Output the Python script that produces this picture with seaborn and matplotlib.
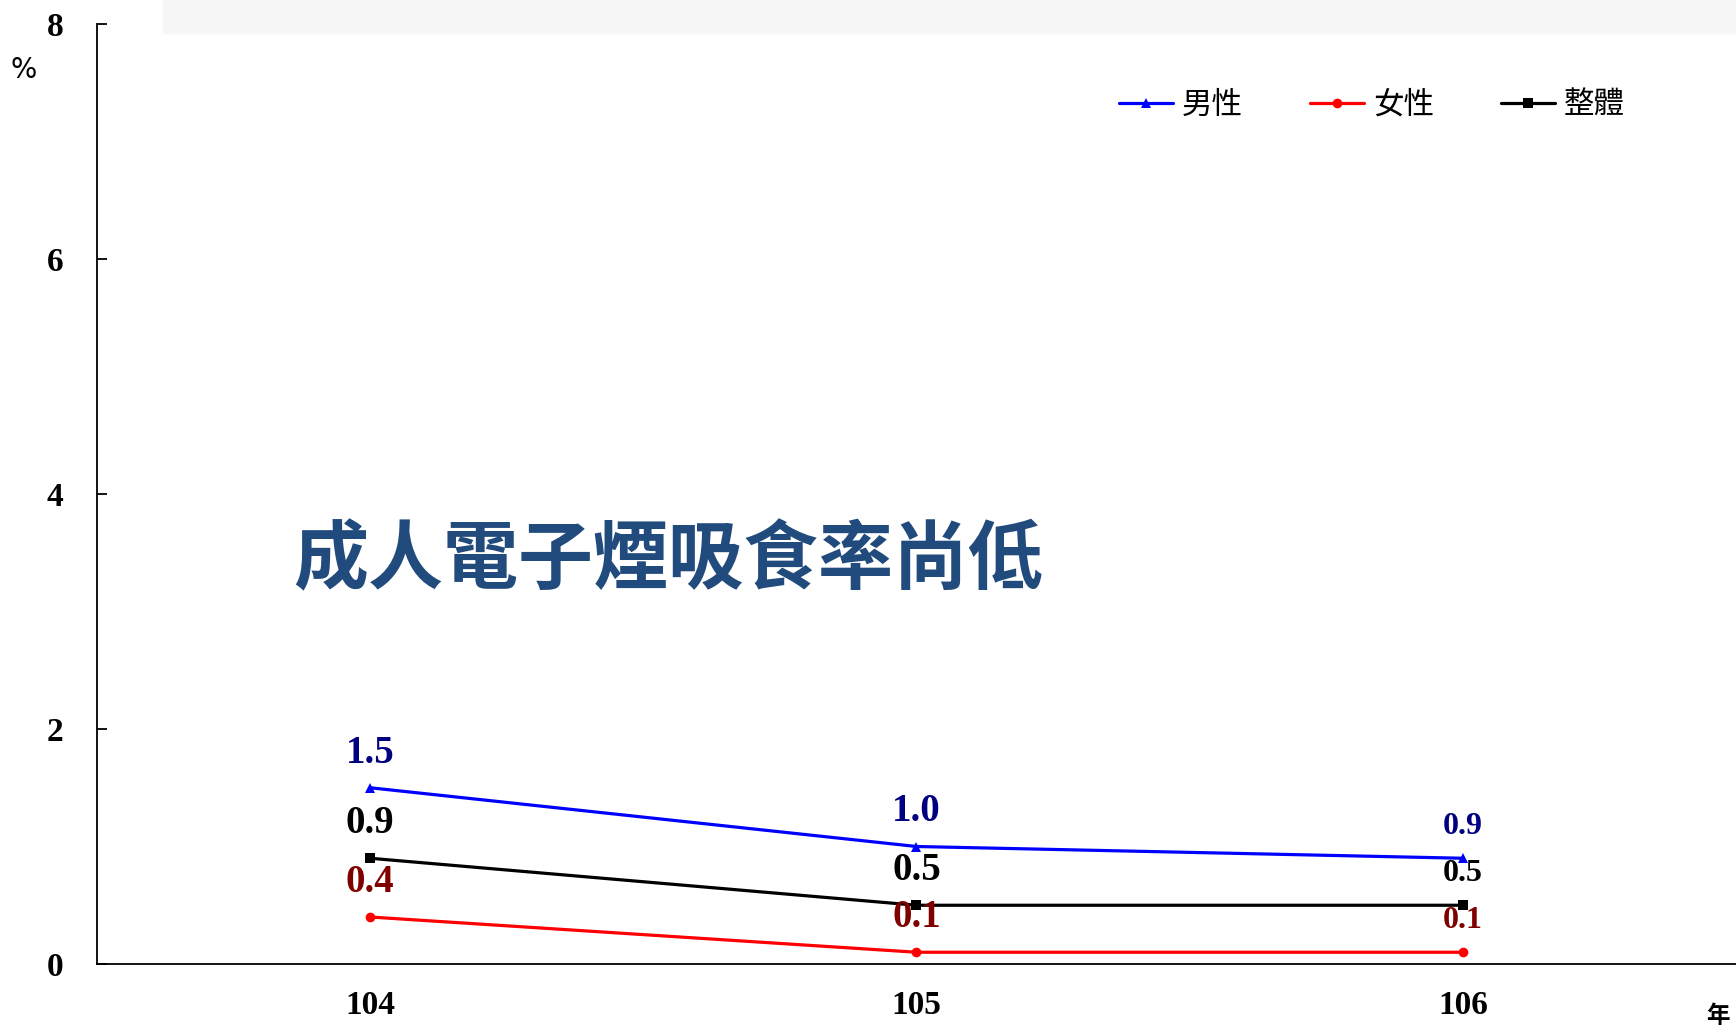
import matplotlib
matplotlib.use("Agg")
import matplotlib.pyplot as plt
import matplotlib.patches as mpatches
import seaborn as sns
import pandas as pd

# Survey years (ROC calendar) and e-cigarette use rates (%)
years = ["104", "105", "106"]
male = [1.5, 1.0, 0.9]
female = [0.4, 0.1, 0.1]
overall = [0.9, 0.5, 0.5]
series_names = ["男性", "女性", "整體"]
y_ticks = [0, 2, 4, 6, 8]

df = pd.DataFrame({
    "year": years * 3,
    "pos": list(range(len(years))) * 3,
    "rate": male + female + overall,
    "group": [series_names[0]] * 3 + [series_names[1]] * 3 + [series_names[2]] * 3,
})

sns.set_theme(style="white")
plt.rcParams["font.family"] = ["Noto Sans CJK TC", "DejaVu Sans"]
plt.rcParams.update({"text.color": "black", "xtick.color": "black",
                     "ytick.color": "black", "axes.labelcolor": "black"})

W, H = 1736, 1028
fig = plt.figure(figsize=(W / 100, H / 100), dpi=100)
ax = fig.add_axes([97 / W, 1 - 964 / H, (W - 97) / W, (964 - 24) / H])

# light band across the top of the slide
fig.patches.append(mpatches.Rectangle((163 / W, 1 - 33 / H), 1 - 163 / W, 33 / H,
                                      transform=fig.transFigure, color="#f7f7f7",
                                      zorder=0))

palette = {"男性": "#0000ff", "女性": "#ff0000", "整體": "#000000"}
markers = {"男性": "^", "女性": "o", "整體": "s"}
sns.lineplot(data=df, x="pos", y="rate", hue="group", style="group",
             palette=palette, markers=markers, dashes=False, markersize=7,
             linewidth=2.3, markeredgewidth=0, ax=ax, legend=True)

# value labels above each point
label_colors = {"男性": "#000080", "女性": "#800000", "整體": "#000000"}
for name, vals in zip(series_names, [male, female, overall]):
    for i, v in enumerate(vals):
        size = 28 if i < 2 else 23
        off = 25 if i < 2 else 23
        ax.annotate(f"{v:.1f}", (i, v), xytext=(0, off), textcoords="offset points",
                    ha="center", va="center", fontsize=size, fontweight="bold",
                    family="Liberation Serif", color=label_colors[name])

ax.set_xlim(-0.5, 2.5)
ax.set_ylim(0, 8)
ax.set_xticks(range(len(years)))
ax.set_xticklabels(years)
ax.set_xticks([0.5, 1.5], minor=True)
ax.set_yticks(y_ticks)
ax.set_yticklabels([str(t) for t in y_ticks])
ax.tick_params(axis="x", which="major", length=0, pad=19, labelcolor="black")
ax.tick_params(axis="x", which="minor", direction="in", length=7, width=1.3, color="black")
ax.tick_params(axis="y", direction="in", length=7, width=1.3, color="black", pad=24,
               left=True, labelcolor="black")
for lab in ax.get_xticklabels() + ax.get_yticklabels():
    lab.set_family("Liberation Serif")
    lab.set_fontweight("bold")
    lab.set_fontsize(24)
ax.set_xlabel("")
ax.set_ylabel("")
for side in ["top", "right"]:
    ax.spines[side].set_visible(False)
for side in ["left", "bottom"]:
    ax.spines[side].set_color("black")
    ax.spines[side].set_linewidth(1.3)
ax.set_facecolor("none")

handles, labels = ax.get_legend_handles_labels()
leg = ax.legend(handles, labels, ncol=3, frameon=False, loc="center",
                bbox_to_anchor=(1372 / W, 1 - 105 / H), bbox_transform=fig.transFigure,
                fontsize=22, handlelength=1.75, handletextpad=0.3, columnspacing=2.2)
for t in leg.get_texts():
    t.set_color("black")

fig.text(24 / W, 1 - 70 / H, "%", fontsize=20, ha="center", va="center",
         family="DejaVu Sans", color="black")
fig.text(1718 / W, 1 - 1016 / H, "年", fontsize=17, ha="center", va="center",
         fontweight="bold", color="black")
fig.text(668 / W, 1 - 561 / H, "成人電子煙吸食率尚低", fontsize=54, ha="center",
         va="center", fontweight="bold", color="#214a7d")

fig.savefig("out.png", dpi=100)
